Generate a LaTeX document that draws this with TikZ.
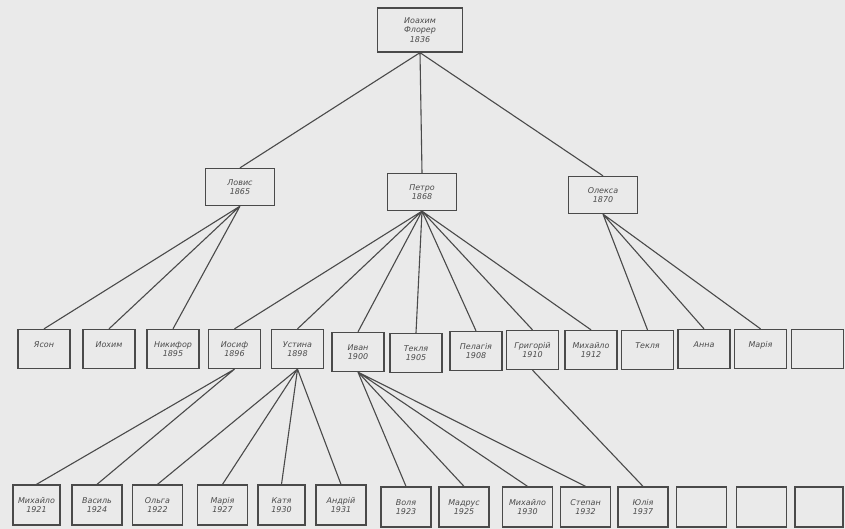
\documentclass[tikz,border=0pt]{standalone}
\usepackage{fontspec}
\setmainfont{DejaVu Sans}
\definecolor{photo}{HTML}{EAEAEA}
\definecolor{ink}{HTML}{4A4A4A}
\tikzset{
  person/.style={draw=ink, line width=1.3bp, minimum width=52bp, minimum height=39bp,
    inner sep=1bp, align=center, text=ink, font=\fontsize{8}{9.5}\selectfont\itshape},
  elder/.style={person, minimum width=69bp, minimum height=37bp},
  kid/.style={person, minimum width=50bp, minimum height=40bp},
  link/.style={draw=ink, line width=1.1bp}
}

\begin{document}
\begin{tikzpicture}[x=1bp,y=-1bp]
        \fill[photo] (0,0) rectangle (845,529);
        % founder
        \node[person, minimum width=85bp, minimum height=44bp] (root) at (420,30) {Иоахим\\Флорер\\1836};
        % sons
        \node[elder] (lovys) at (240,187) {Ловис\\1865};
        \node[elder] (petro) at (422,192) {Петро\\1868};
        \node[elder] (oleksa) at (603,195) {Олекса\\1870};
        % grandchildren
        \node[person] (jason) at (44,349) {Ясон\\\phantom{0}};
        \node[person] (iokhym) at (109,349) {Иохим\\\phantom{0}};
        \node[person] (nykyfor) at (173,349) {Никифор\\1895};
        \node[person] (iosyf) at (234.5,349) {Иосиф\\1896};
        \node[person] (ustyna) at (297.5,349) {Устина\\1898};
        \node[person] (ivan) at (358,352) {Иван\\1900};
        \node[person] (teklya) at (416,353) {Текля\\1905};
        \node[person] (pelagia) at (476,351) {Пелагія\\1908};
        \node[person] (hryhoriy) at (532.5,350) {Григорій\\1910};
        \node[person] (mykhaylo) at (591,350) {Михайло\\1912};
        \node[person] (teklyb) at (647.5,350) {Текля\\\phantom{0}};
        \node[person] (anna) at (704,349) {Анна\\\phantom{0}};
        \node[person] (mariya) at (760.5,349) {Марія\\\phantom{0}};
        \node[person] (blanka) at (817.5,349) {};
        % great-grandchildren
        \node[kid, minimum width=47bp] (mykh) at (36.5,505) {Михайло\\1921};
        \node[kid] (vasyl) at (97,505) {Василь\\1924};
        \node[kid] (olga) at (157.5,505) {Ольга\\1922};
        \node[kid] (mariyb) at (222.5,505) {Марія\\1927};
        \node[kid, minimum width=47bp] (katya) at (281.5,505) {Катя\\1930};
        \node[kid] (andriy) at (341,505) {Андрій\\1931};
        \node[kid] (volya) at (406,507) {Воля\\1923};
        \node[kid] (madrus) at (464,507) {Мадрус\\1925};
        \node[kid] (mykhb) at (527.5,507) {Михайло\\1930};
        \node[kid] (stepan) at (585.5,507) {Степан\\1932};
        \node[kid] (yulia) at (643,507) {Юлія\\1937};
        \node[kid] (blankb) at (701.5,507) {};
        \node[kid] (blankc) at (761.5,507) {};
        \node[kid, minimum width=48bp] (blankd) at (819,507) {};
        % lines of descent
        \draw[link] (root.south) -- (lovys.north) (root.south) -- (petro.north) (root.south) -- (oleksa.north);
        \draw[link] (lovys.south) -- (jason.north) (lovys.south) -- (iokhym.north) (lovys.south) -- (nykyfor.north);
        \draw[link] (petro.south) -- (iosyf.north) (petro.south) -- (ustyna.north) (petro.south) -- (ivan.north);
        \draw[link] (petro.south) -- (teklya.north) (petro.south) -- (pelagia.north);
        \draw[link] (petro.south) -- (hryhoriy.north) (petro.south) -- (mykhaylo.north);
        \draw[link] (oleksa.south) -- (teklyb.north) (oleksa.south) -- (anna.north) (oleksa.south) -- (mariya.north);
        \draw[link] (iosyf.south) -- (mykh.north) (iosyf.south) -- (vasyl.north);
        \draw[link] (ustyna.south) -- (olga.north) (ustyna.south) -- (mariyb.north);
        \draw[link] (ustyna.south) -- (katya.north) (ustyna.south) -- (andriy.north);
        \draw[link] (ivan.south) -- (volya.north) (ivan.south) -- (madrus.north);
        \draw[link] (ivan.south) -- (mykhb.north) (ivan.south) -- (stepan.north);
        \draw[link] (hryhoriy.south) -- (yulia.north);
    \end{tikzpicture}
\end{document}
